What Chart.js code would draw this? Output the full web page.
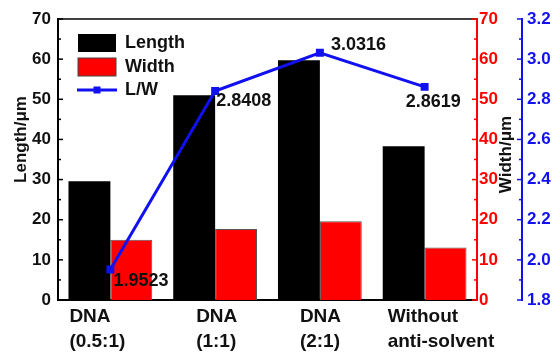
<!DOCTYPE html>
<html>
<head>
<meta charset="utf-8">
<script src="https://cdn.jsdelivr.net/npm/chart.js@4"></script>
<style>
  html, body { margin: 0; padding: 0; background: #fff; }
  #wrap { width: 560px; height: 361px; }
</style>
</head>
<body>
<div id="wrap"><canvas id="chart" width="560" height="361"></canvas></div>
<script>
// data
const categories = [['DNA', '(0.5:1)'], ['DNA', '(1:1)'], ['DNA', '(2:1)'], ['Without', 'anti-solvent']];
const lengthValues = [29.6, 51.0, 59.7, 38.3];
const widthValues = [15.0, 17.7, 19.6, 13.1];
const ratioValues = [1.9523, 2.8408, 3.0316, 2.8619];

// label placement tweaks (px)
const labelShift = [-41, -19, -20, -37];
const valueLabelOffset = [[3, 12], [1, 10], [11, -8], [-19, 15]];

const FONT = "'Liberation Sans', Arial, sans-serif";
const RED = '#ff0000';
const BLUE = '#1010f0';

const extras = {
    id: 'extras',
    afterDatasetsDraw(chart) {
        const ctx = chart.ctx;
        const meta = chart.getDatasetMeta(2);
        ctx.save();
        ctx.font = 'bold 18px ' + FONT;
        ctx.fillStyle = '#111';
        ctx.textAlign = 'left';
        ctx.textBaseline = 'middle';
        meta.data.forEach((pt, i) => {
            const off = valueLabelOffset[i];
            ctx.fillText(ratioValues[i].toFixed(4), pt.x + off[0], pt.y + off[1]);
        });
        ctx.restore();
    },
    afterDraw(chart) {
        const ctx = chart.ctx;
        const area = chart.chartArea;
        ctx.save();

        // top frame line
        ctx.strokeStyle = '#000';
        ctx.lineWidth = 1.5;
        ctx.beginPath();
        ctx.moveTo(area.left, area.top);
        ctx.lineTo(area.right, area.top);
        ctx.stroke();

        // tick marks (major + minor)
        const drawTicks = (scale, x0, dir, color) => {
            ctx.strokeStyle = color;
            ctx.lineWidth = 1.5;
            const vals = scale.ticks.map(t => t.value);
            vals.forEach((v, i) => {
                const y = scale.getPixelForValue(v);
                ctx.beginPath();
                ctx.moveTo(x0, y);
                ctx.lineTo(x0 + dir * 5, y);
                ctx.stroke();
                if (i < vals.length - 1) {
                    const ym = scale.getPixelForValue((v + vals[i + 1]) / 2);
                    ctx.beginPath();
                    ctx.moveTo(x0, ym);
                    ctx.lineTo(x0 + dir * 3, ym);
                    ctx.stroke();
                }
            });
        };
        drawTicks(chart.scales.y, area.left, 1, '#000');
        drawTicks(chart.scales.y1, area.right, -1, RED);
        drawTicks(chart.scales.y2, chart.scales.y2.left, -1, BLUE);

        // x category labels
        const xs = chart.scales.x;
        ctx.font = 'bold 19px ' + FONT;
        ctx.fillStyle = '#111';
        ctx.textAlign = 'left';
        ctx.textBaseline = 'middle';
        categories.forEach((lines, i) => {
            const x = xs.getPixelForValue(i) + labelShift[i];
            lines.forEach((t, j) => ctx.fillText(t, x, area.bottom + 17 + j * 25));
        });

        // axis titles
        ctx.font = 'bold 17px ' + FONT;
        const midY = (area.top + area.bottom) / 2;
        [['Length/\u03bcm', 21, midY - 20], ['Width/\u03bcm', chart.scales.y1.left + 29, midY - 5]].forEach(([t, x, y]) => {
            ctx.save();
            ctx.translate(x, y);
            ctx.rotate(-Math.PI / 2);
            ctx.textAlign = 'center';
            ctx.fillStyle = '#111';
            ctx.fillText(t, 0, 0);
            ctx.restore();
        });

        // legend
        const lx = area.left + 20;
        const rows = [area.top + 24, area.top + 48, area.top + 71];
        ctx.fillStyle = '#000';
        ctx.fillRect(lx, rows[0] - 9, 38, 18);
        ctx.fillStyle = RED;
        ctx.fillRect(lx, rows[1] - 9, 38, 18);
        ctx.strokeStyle = '#444';
        ctx.lineWidth = 1;
        ctx.strokeRect(lx, rows[1] - 9, 38, 18);
        ctx.strokeStyle = BLUE;
        ctx.lineWidth = 3;
        ctx.beginPath();
        ctx.moveTo(lx - 1, rows[2]);
        ctx.lineTo(lx + 39, rows[2]);
        ctx.stroke();
        ctx.fillStyle = BLUE;
        ctx.fillRect(lx + 19 - 3.5, rows[2] - 3.5, 7, 7);
        ctx.font = 'bold 18px ' + FONT;
        ctx.fillStyle = '#111';
        ctx.textAlign = 'left';
        const names = chart.data.datasets.map(d => d.label);
        names.forEach((n, i) => ctx.fillText(n, lx + 47, rows[i]));

        ctx.restore();
    }
};

const ctx = document.getElementById('chart').getContext('2d');
new Chart(ctx, {
    type: 'bar',
    data: {
        labels: categories.map(c => c.join(' ')),
        datasets: [
            {
                label: 'Length',
                data: lengthValues,
                backgroundColor: '#000',
                borderColor: '#000',
                borderWidth: 0,
                yAxisID: 'y',
                order: 2,
            },
            {
                label: 'Width',
                data: widthValues,
                backgroundColor: RED,
                borderColor: '#555',
                borderWidth: 1,
                yAxisID: 'y1',
                order: 2,
            },
            {
                type: 'line',
                label: 'L/W',
                data: ratioValues,
                borderColor: BLUE,
                backgroundColor: BLUE,
                borderWidth: 3,
                pointStyle: 'rect',
                pointRadius: 3.5,
                pointHoverRadius: 3.5,
                tension: 0,
                yAxisID: 'y2',
                order: 1,
            },
        ],
    },
    options: {
        responsive: false,
        animation: false,
        devicePixelRatio: 1,
        layout: { padding: { top: 19, left: 0, right: 0, bottom: 0 } },
        plugins: {
            legend: { display: false },
            tooltip: { enabled: false },
        },
        datasets: {
            bar: { categoryPercentage: 0.8, barPercentage: 1.0 },
        },
        scales: {
            x: {
                grid: { display: false, drawTicks: false },
                border: { color: '#000', width: 2 },
                ticks: { display: false },
                afterFit(scale) { scale.height = 61; },
            },
            y: {
                position: 'left',
                min: 0,
                max: 70,
                grid: { display: false, drawTicks: false },
                border: { color: '#000', width: 2 },
                ticks: {
                    stepSize: 10,
                    padding: 7,
                    color: '#111',
                    font: { family: FONT, size: 17, weight: 'bold' },
                },
                afterFit(scale) { scale.width = 58; },
            },
            y1: {
                position: 'right',
                min: 0,
                max: 70,
                grid: { display: false, drawTicks: false },
                border: { color: RED, width: 2 },
                ticks: {
                    stepSize: 10,
                    padding: 2,
                    color: RED,
                    font: { family: FONT, size: 17, weight: 'bold' },
                },
                afterFit(scale) { scale.width = 45; },
            },
            y2: {
                position: 'right',
                min: 1.8,
                max: 3.2,
                grid: { display: false, drawTicks: false },
                border: { color: BLUE, width: 2 },
                ticks: {
                    stepSize: 0.2,
                    padding: 5,
                    color: BLUE,
                    font: { family: FONT, size: 17, weight: 'bold' },
                    callback: (v) => Number(v).toFixed(1),
                },
                afterFit(scale) { scale.width = 38; },
            },
        },
    },
    plugins: [extras],
});
</script>
</body>
</html>
